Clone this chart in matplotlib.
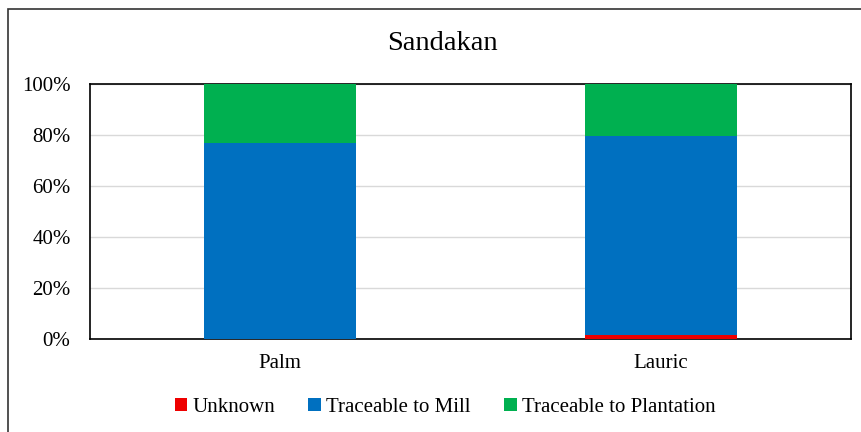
import matplotlib.pyplot as plt
from matplotlib.patches import Rectangle
import numpy as np

plt.rcParams['font.family'] = ['Liberation Serif', 'DejaVu Serif']

categories = ['Palm', 'Lauric']
unknown = [0.0, 1.6]
mill = [76.9, 77.9]
plantation = [23.1, 20.5]

fig = plt.figure(figsize=(8.62, 4.32), dpi=100)
ax = fig.add_axes([90 / 862, 1 - 339 / 432, 761 / 862, 255 / 432])

# outer chart frame
fig.patches.append(Rectangle((8 / 862, -0.1), 1.2, (432 - 9) / 432 + 0.1,
                             transform=fig.transFigure, fill=False,
                             edgecolor='#333333', linewidth=1.2))

x = np.arange(len(categories))
w = 0.4
ax.bar(x, unknown, w, color='#ee0000', label='Unknown', zorder=3)
ax.bar(x, mill, w, bottom=unknown, color='#0070c0', label='Traceable to Mill', zorder=3)
bottom2 = np.array(unknown) + np.array(mill)
ax.bar(x, plantation, w, bottom=bottom2, color='#00b050', label='Traceable to Plantation', zorder=3)

ax.set_xlim(-0.5, 1.5)
ax.set_ylim(0, 100)
ax.set_yticks(range(0, 101, 20))
ax.set_yticklabels([f'{v}%' for v in range(0, 101, 20)])
ax.set_xticks(x)
ax.set_xticklabels(categories)
ax.tick_params(length=0, labelsize=15)
ax.tick_params(axis='y', pad=14)
ax.tick_params(axis='x', pad=11)
ax.grid(axis='y', color='#d9d9d9', linewidth=1, zorder=0)
for s in ax.spines.values():
    s.set_color('black')
    s.set_linewidth(1.2)

fig.text(442 / 862, 1 - 44 / 432, 'Sandakan', ha='center', va='center', fontsize=20.5)

fig.legend(loc='center', bbox_to_anchor=(445 / 862, 1 - 407 / 432), ncol=3,
           frameon=False, fontsize=15, handlelength=0.6, handleheight=0.6,
           handletextpad=0.25, columnspacing=1.6)

fig.savefig('out.png', dpi=100)
